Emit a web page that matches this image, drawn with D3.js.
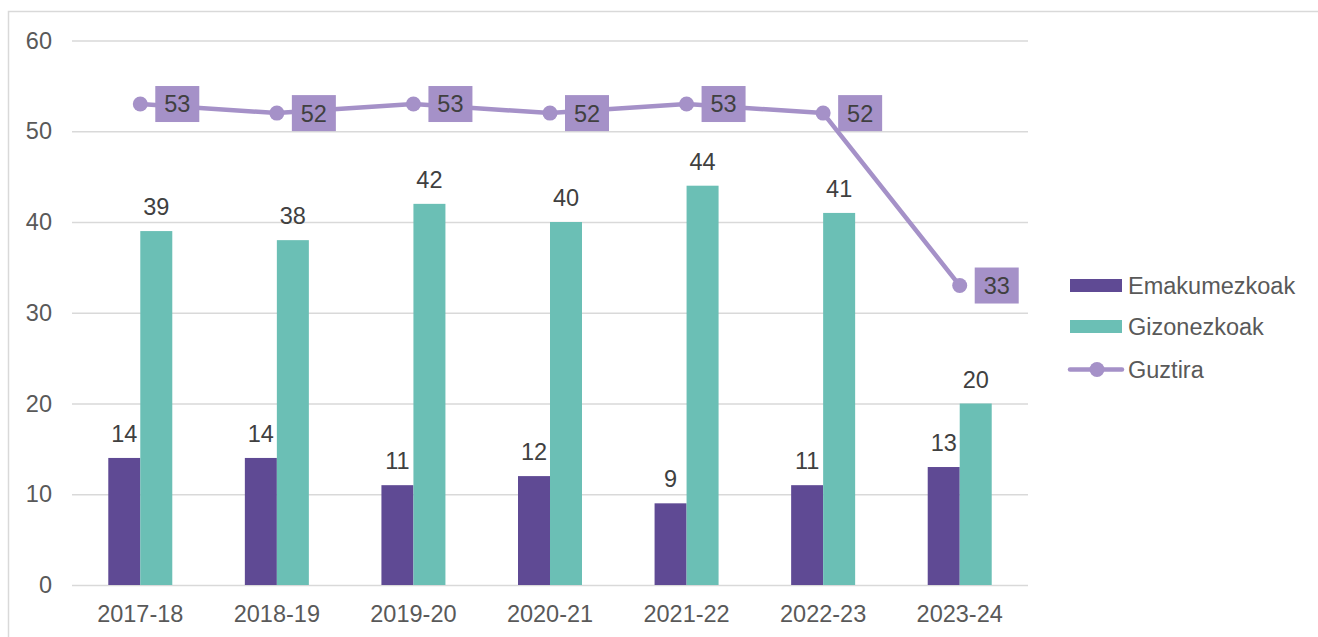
<!DOCTYPE html>
<html>
<head>
<meta charset="utf-8">
<script src="https://cdn.jsdelivr.net/npm/d3@7"></script>
<style>
  html, body { margin: 0; padding: 0; background: #fff; }
  svg { display: block; }
  text { font-family: "Liberation Sans", Arial, sans-serif; }
</style>
</head>
<body>
<svg id="chart" width="1318" height="637"></svg>
<script>
// Ikasturteak
const categories = ["2017-18", "2018-19", "2019-20", "2020-21", "2021-22", "2022-23", "2023-24"];
const emakumezkoak = [14, 14, 11, 12, 9, 11, 13];
const gizonezkoak = [39, 38, 42, 40, 44, 41, 20];
const guztira = [53, 52, 53, 52, 53, 52, 33];
const yTicks = [0, 10, 20, 30, 40, 50, 60];
const seriesNames = ["Emakumezkoak", "Gizonezkoak", "Guztira"];

const colors = {
  Emakumezkoak: "#5f4a94",
  Gizonezkoak: "#6bbfb5",
  Guztira: "#a591c8"
};
const axisTextColor = "#595959";
const labelColor = "#404040";
const gridColor = "#d9d9d9";
const fontSize = 23.5;

const svg = d3.select("#chart");

// Outer frame
svg.append("rect")
  .attr("x", 8.5).attr("y", 11.5)
  .attr("width", 1340).attr("height", 700)
  .attr("fill", "none").attr("stroke", gridColor).attr("stroke-width", 1.5);

const plot = { left: 72, right: 1028, top: 40.5, bottom: 585 };

const y = d3.scaleLinear().domain([0, 60]).range([plot.bottom, plot.top]);
const x0 = d3.scaleBand().domain(categories).range([plot.left, plot.right]).padding(0);
const bw = x0.bandwidth();
const barW = 32;
const x1 = d3.scaleBand().domain(["Emakumezkoak", "Gizonezkoak"])
  .range([bw / 2 - barW, bw / 2 + barW]).padding(0);

// Gridlines + y labels
const yAxis = d3.axisLeft(y).tickValues(yTicks).tickSize(-(plot.right - plot.left)).tickPadding(20);
const gy = svg.append("g").attr("transform", `translate(${plot.left},0)`).call(yAxis);
gy.select(".domain").remove();
gy.selectAll(".tick line").attr("stroke", gridColor).attr("stroke-width", 1.5);
gy.selectAll(".tick text")
  .attr("fill", axisTextColor)
  .style("font-size", fontSize + "px")
  .attr("font-family", "Liberation Sans, Arial, sans-serif");

// x labels
const xAxis = d3.axisBottom(x0).tickSize(0).tickPadding(20);
const gx = svg.append("g").attr("transform", `translate(0,${plot.bottom})`).call(xAxis);
gx.select(".domain").remove();
gx.selectAll(".tick text")
  .attr("fill", axisTextColor)
  .style("font-size", fontSize + "px")
  .attr("font-family", "Liberation Sans, Arial, sans-serif");

// Bars
const barData = categories.map((c, i) => ({
  cat: c,
  values: [
    { key: "Emakumezkoak", value: emakumezkoak[i] },
    { key: "Gizonezkoak", value: gizonezkoak[i] }
  ]
}));

const groups = svg.append("g").selectAll("g")
  .data(barData).join("g")
  .attr("transform", d => `translate(${x0(d.cat)},0)`);

groups.selectAll("rect")
  .data(d => d.values).join("rect")
  .attr("x", d => x1(d.key))
  .attr("width", x1.bandwidth())
  .attr("y", d => y(d.value))
  .attr("height", d => y(0) - y(d.value))
  .attr("fill", d => colors[d.key]);

groups.selectAll("text")
  .data(d => d.values).join("text")
  .attr("x", d => x1(d.key) + x1.bandwidth() / 2)
  .attr("y", d => y(d.value) - 16)
  .attr("text-anchor", "middle")
  .attr("fill", labelColor)
  .style("font-size", fontSize + "px")
  .text(d => d.value);

// Total line
const cx = c => x0(c) + bw / 2;
const line = d3.line().x((d, i) => cx(categories[i])).y(d => y(d));
svg.append("path")
  .datum(guztira)
  .attr("d", line)
  .attr("fill", "none")
  .attr("stroke", colors.Guztira)
  .attr("stroke-width", 4.5)
  .attr("stroke-linejoin", "round")
  .attr("stroke-linecap", "round");

svg.append("g").selectAll("circle")
  .data(guztira).join("circle")
  .attr("cx", (d, i) => cx(categories[i]))
  .attr("cy", d => y(d))
  .attr("r", 7.5)
  .attr("fill", colors.Guztira);

const boxW = 44, boxH = 36;
const lbl = svg.append("g").selectAll("g")
  .data(guztira).join("g")
  .attr("transform", (d, i) => `translate(${cx(categories[i]) + 15},${y(d) - boxH / 2})`);
lbl.append("rect")
  .attr("width", boxW).attr("height", boxH)
  .attr("fill", colors.Guztira);
lbl.append("text")
  .attr("x", boxW / 2).attr("y", boxH / 2)
  .attr("dy", "0.36em")
  .attr("text-anchor", "middle")
  .attr("fill", labelColor)
  .style("font-size", fontSize + "px")
  .text(d => d);

// Legend
const legend = svg.append("g").attr("transform", "translate(1070,0)");
const legendY = [285.5, 326.5, 369.5];
seriesNames.forEach((name, i) => {
  const g = legend.append("g").attr("transform", `translate(0,${legendY[i]})`);
  if (name === "Guztira") {
    g.append("line").attr("x1", 0).attr("x2", 52).attr("y1", 0).attr("y2", 0)
      .attr("stroke", colors[name]).attr("stroke-width", 4.5).attr("stroke-linecap", "round");
    g.append("circle").attr("cx", 27).attr("cy", 0).attr("r", 7.5).attr("fill", colors[name]);
  } else {
    g.append("rect").attr("x", 0).attr("y", -6.5).attr("width", 52).attr("height", 13)
      .attr("fill", colors[name]);
  }
  g.append("text")
    .attr("x", 58).attr("y", 0).attr("dy", "0.36em")
    .attr("fill", axisTextColor)
    .style("font-size", fontSize + "px")
    .text(name);
});
</script>
</body>
</html>
